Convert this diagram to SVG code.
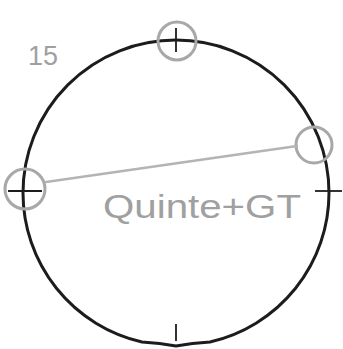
<svg xmlns="http://www.w3.org/2000/svg" width="343" height="349" viewBox="0 0 343 349">
<style>
.outline{fill:none;stroke:#1c1c1c;stroke-width:3;stroke-linecap:round;stroke-linejoin:round}
.tick{fill:none;stroke:#1c1c1c;stroke-width:1.8}
.ring{fill:none;stroke:#a8a8a8;stroke-width:3}
.conn{fill:none;stroke:#b4b4b4;stroke-width:2.5;stroke-linecap:round}
.hand{font-family:"Liberation Sans",Arial,sans-serif;fill:#a0a0a0;font-weight:normal}
</style>
<rect width="343" height="349" fill="#ffffff"/>
<g id="outline">
<path class="outline" d="M23,193 A153,153 0 0 1 329,193 A153,153 0 0 1 210,342 Q192,343 176,346 Q160,343 142,342 A153,153 0 0 1 23,193 Z"/>
<line class="tick" x1="176" y1="28" x2="176" y2="52"/>
<line class="tick" x1="8" y1="191" x2="42" y2="191"/>
<line class="tick" x1="315" y1="191" x2="342" y2="191"/>
<line class="tick" x1="176" y1="324" x2="176" y2="341"/>
</g>
<g id="node-top"><circle class="ring" cx="177" cy="41" r="19"/></g>
<g id="node-left"><circle class="ring" cx="25" cy="189" r="20"/></g>
<g id="node-right"><circle class="ring" cx="314" cy="145" r="18"/></g>
<g id="connectors">
<line class="conn" x1="46" y1="182" x2="297" y2="146"/>
</g>
<g id="labels">
<text class="hand" x="28" y="65" font-size="27" textLength="30" lengthAdjust="spacingAndGlyphs">15</text>
<text class="hand" x="103" y="218" font-size="34" textLength="198" lengthAdjust="spacingAndGlyphs">Quinte+GT</text>
</g>
</svg>
